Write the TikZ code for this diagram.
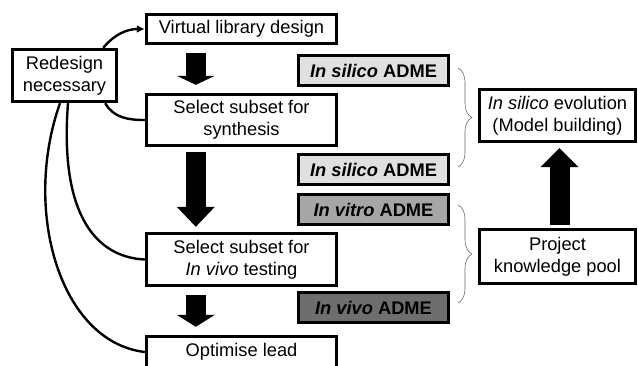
\documentclass[tikz,border=0pt]{standalone}
\usepackage{fontspec}
\setmainfont{Liberation Sans}
\usetikzlibrary{arrows.meta,calc,decorations.pathreplacing}

\tikzset{
  box/.style={draw, line width=0.85mm, fill=white, align=center, inner sep=0pt, minimum width=47.5mm},
  sidebox/.style={draw, line width=0.85mm, fill=white, align=center, inner sep=0pt, minimum width=39mm},
  admebox/.style={draw, line width=0.85mm, align=center, inner sep=0pt, minimum width=37.5mm, minimum height=7.5mm, font=\fontsize{13}{15.6}\selectfont\bfseries},
  loopline/.style={line width=0.6mm},
  blockarrow/.style={line width=5mm, -{Triangle[width=9.5mm, length=#1, line width=0pt]}},
  bracket/.style={draw=black!60, line width=0.4pt, decorate, decoration={brace, amplitude=3.5mm}},
}

\begin{document}
\begin{tikzpicture}[x=0.25mm, y=-0.25mm, font=\fontsize{13}{15.6}\selectfont]
        \useasboundingbox (0,0) rectangle (638,365);
        \clip (0,0) rectangle (638,365);
        % ==== MAIN COLUMN ====
        \node[box, minimum height=7.25mm] (vld) at (241.5,29) {Virtual library design};
        \node[box, minimum height=12.75mm] (sel1) at (241.5,120) {Select subset for\\synthesis};
        \node[box, minimum height=13mm] (sel2) at (241.5,259.5) {Select subset for\\\textit{In vivo} testing};
        \node[box, minimum height=7.75mm] (opt) at (241.5,352) {Optimise lead};
        \node[box, minimum width=26mm, minimum height=13mm] (red) at (64.5,75.5) {Redesign\\necessary};
        % ==== ADME BOXES ====
        \node[admebox, fill=black!12] (ad1) at (373.5,70.5) {\textit{In silico} ADME};
        \node[admebox, fill=black!12] (ad2) at (373.5,169.5) {\textit{In silico} ADME};
        \node[admebox, fill=black!35] (ad3) at (373.5,209.5) {\textit{In vitro} ADME};
        \node[admebox, fill=black!57] (ad4) at (373.5,307.5) {\textit{In vivo} ADME};
        % ==== RIGHT SIDE ====
        \node[sidebox, minimum height=13mm] (ise) at (557.5,115.5) {\textit{In silico} evolution\\(Model building)};
        \node[sidebox, minimum height=13.5mm] (pkp) at (557.5,256.5) {Project\\knowledge pool};
        \draw[bracket] (458,68) -- (458,167);
        \draw[bracket] (458,205) -- (458,303);
        % ==== BLOCK ARROWS ====
        \draw[blockarrow=2.25mm, shorten <=2mm, shorten >=2mm]
            ([xshift=12.75mm]vld.south west) -- ([xshift=12.75mm]sel1.north west);
        \draw[blockarrow=5mm, shorten <=1.25mm, shorten >=1.25mm]
            ([xshift=12.75mm]sel1.south west) -- ([xshift=12.75mm]sel2.north west);
        \draw[blockarrow=3mm, shorten <=2mm, shorten >=2mm]
            ([xshift=12.75mm]sel2.south west) -- ([xshift=12.75mm]opt.north west);
        \draw[blockarrow=4.75mm, shorten <=0.75mm, shorten >=1.25mm]
            ([xshift=0.5mm]pkp.north) -- ([xshift=0.5mm]ise.south);
        % ==== REDESIGN LOOPS ====
        \draw[loopline, -{Latex[length=2mm, width=2mm]}]
            ($(red.north east)+(-15,0)$) to[out=50, in=180] (vld.west);
        \draw[loopline] ($(red.south east)+(-13,0)$) to[out=-60, in=180] (sel1.west);
        \draw[loopline] ($(red.south)+(3.5,0)$) .. controls +(-9,117) and +(-45,-2) .. (sel2.west);
        \draw[loopline] ($(red.south)+(-4.5,0)$) .. controls +(-38,107) and +(-85,-10) .. (opt.west);
\end{tikzpicture}
\end{document}
